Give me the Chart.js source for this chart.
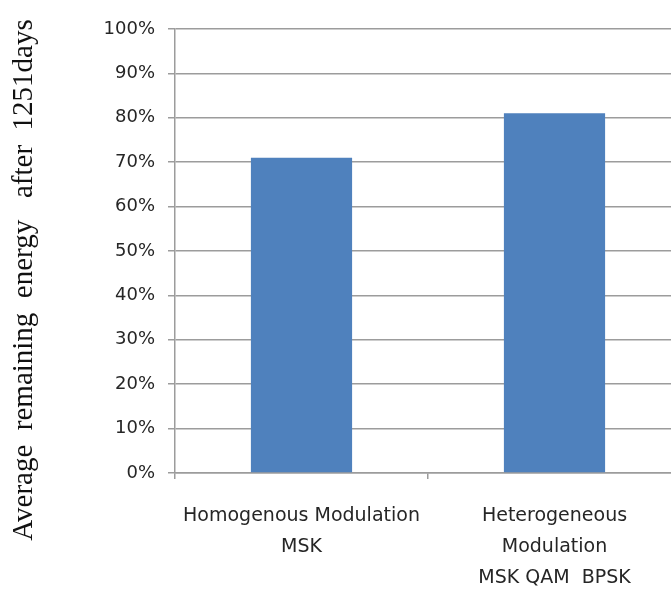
<!DOCTYPE html>
<html>
<head>
<meta charset="utf-8">
<script src="https://cdn.jsdelivr.net/npm/chart.js@4"></script>
<style>
  html, body { margin: 0; padding: 0; background: #fff; overflow: hidden; }
  #wrap { position: relative; width: 681px; height: 593px; }
</style>
</head>
<body>
<div id="wrap"><canvas id="energyChart"></canvas></div>
<script>
// categories (multi-line labels as in the original figure)
const categories = [
  ['Homogenous Modulation', 'MSK'],
  ['Heterogeneous', 'Modulation', 'MSK QAM  BPSK']
];
// average remaining energy, percent
const remainingEnergy = [71, 81];
const yTicks = [0, 10, 20, 30, 40, 50, 60, 70, 80, 90, 100];
// trailing spaces push the title text down a bit, like the original
const yTitle = 'Average  remaining  energy   after  1251days        ';

const gridGray = '#9c9c9c';
const labelFont = { family: 'DejaVu Sans', size: 19, lineHeight: 1.63 };

const ctx = document.getElementById('energyChart');

new Chart(ctx, {
  type: 'bar',
  data: {
    labels: categories,
    datasets: [{
      label: 'Remaining energy',
      data: remainingEnergy,
      backgroundColor: '#4f81bd',
      borderWidth: 0,
      barPercentage: 0.4,
      categoryPercentage: 1.0
    }]
  },
  options: {
    responsive: true,
    maintainAspectRatio: false,
    animation: false,
    layout: { padding: { top: 29, left: 0, right: 0, bottom: 0 } },
    plugins: {
      legend: { display: false },
      tooltip: { enabled: false }
    },
    scales: {
      x: {
        grid: {
          offset: true,
          drawOnChartArea: false,
          color: gridGray,
          lineWidth: 1.5,
          tickLength: 6
        },
        border: { color: gridGray, width: 1.5 },
        ticks: {
          color: '#262626',
          font: labelFont,
          padding: 22,
          maxRotation: 0,
          autoSkip: false
        },
        afterFit(scale) { scale.height = 120; }
      },
      y: {
        min: 0,
        max: 100,
        afterBuildTicks(scale) {
          scale.ticks = yTicks.map(v => ({ value: v }));
        },
        grid: {
          color: gridGray,
          lineWidth: 1.5,
          tickLength: 7
        },
        border: { color: gridGray, width: 1.5 },
        ticks: {
          color: '#262626',
          font: { family: 'DejaVu Sans', size: 18 },
          padding: 13,
          callback: v => v + '%'
        },
        title: {
          display: true,
          text: yTitle,
          color: '#111',
          font: { family: 'Liberation Serif', size: 29, lineHeight: 1.2 },
          padding: { top: 7, bottom: 0 }
        },
        afterFit(scale) { scale.width = 175; }
      }
    }
  }
});
</script>
</body>
</html>
